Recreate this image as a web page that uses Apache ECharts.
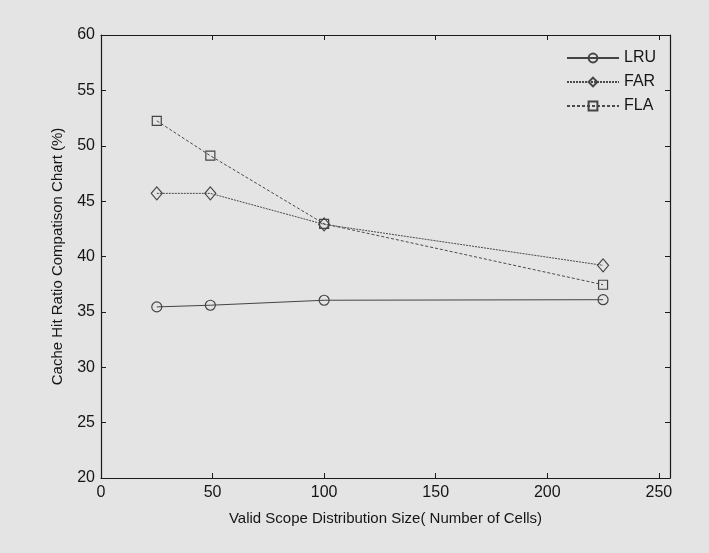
<!DOCTYPE html>
<html>
<head>
<meta charset="utf-8">
<script src="https://cdn.jsdelivr.net/npm/echarts@6/dist/echarts.min.js"></script>
<style>
html,body{margin:0;padding:0;background:#e4e4e4;}
#c{width:709px;height:553px;}
</style>
</head>
<body>
<div id="c"></div>
<script>
const xValues = [25, 49, 100, 225];
const lruValues = [35.45, 35.6, 36.05, 36.1];
const farValues = [45.7, 45.7, 42.9, 39.2];
const flaValues = [52.25, 49.1, 42.95, 37.45];
const seriesNames = ['LRU', 'FAR', 'FLA'];
const xTitle = 'Valid Scope Distribution Size( Number of Cells)';
const yTitle = 'Cache Hit Ratio Compatison Chart (%)';

const font = 'Liberation Sans, Arial, sans-serif';
const axisColor = '#1a1a1a';
const textColor = '#151515';

function pairs(vals) { return xValues.map((x, i) => [x, vals[i]]); }

const chart = echarts.init(document.getElementById('c'), null, {renderer: 'canvas'});
const baseX = {
  type: 'value', min: 0, max: 255, interval: 50,
  axisLine: {show: true, onZero: false, lineStyle: {color: axisColor, width: 1.2}},
  axisTick: {show: true, inside: true, length: 5, lineStyle: {color: axisColor}},
  splitLine: {show: false}
};
const baseY = {
  type: 'value', min: 20, max: 60, interval: 5,
  axisLine: {show: true, onZero: false, lineStyle: {color: axisColor, width: 1.2}},
  axisTick: {show: true, inside: true, length: 5, lineStyle: {color: axisColor}},
  splitLine: {show: false}
};
const option = {
  backgroundColor: '#e4e4e4',
  animation: false,
  grid: {left: 101, right: 39, top: 35, bottom: 75, containLabel: false},
  legend: {
    orient: 'vertical', left: 561, top: 45, itemWidth: 52, itemHeight: 11, itemGap: 8,
    textStyle: {fontFamily: font, fontSize: 16, color: textColor},
    data: seriesNames
  },
  xAxis: [
    Object.assign({}, baseX, {
      position: 'bottom',
      name: xTitle, nameLocation: 'middle', nameGap: 33,
      nameTextStyle: {fontFamily: font, fontSize: 15, color: textColor},
      axisLabel: {fontFamily: font, fontSize: 16, color: textColor, margin: 7,
        formatter: v => (v % 50 === 0 ? String(v) : '')}
    }),
    Object.assign({}, baseX, {position: 'top', axisLabel: {show: false}})
  ],
  yAxis: [
    Object.assign({}, baseY, {
      position: 'left',
      name: yTitle, nameLocation: 'middle', nameGap: 36,
      nameTextStyle: {fontFamily: font, fontSize: 15, color: textColor},
      axisLabel: {fontFamily: font, fontSize: 16, color: textColor, margin: 6}
    }),
    Object.assign({}, baseY, {position: 'right', axisLabel: {show: false}})
  ],
  series: [
    {
      name: seriesNames[0], type: 'line', data: pairs(lruValues),
      symbol: 'circle', symbolSize: 10,
      lineStyle: {color: '#444', width: 1, type: 'solid'},
      itemStyle: {color: 'rgba(0,0,0,0)', borderColor: '#444', borderWidth: 1.2}
    },
    {
      name: seriesNames[1], type: 'line', data: pairs(farValues),
      symbol: 'diamond', symbolSize: [11, 13],
      lineStyle: {color: '#4a4a4a', width: 1, type: [2, 1]},
      itemStyle: {color: 'rgba(0,0,0,0)', borderColor: '#444', borderWidth: 1.2}
    },
    {
      name: seriesNames[2], type: 'line', data: pairs(flaValues),
      symbol: 'rect', symbolSize: 9,
      lineStyle: {color: '#4a4a4a', width: 1, type: [3, 2]},
      itemStyle: {color: 'rgba(0,0,0,0)', borderColor: '#444', borderWidth: 1.2}
    }
  ]
};
chart.setOption(option);
</script>
</body>
</html>
